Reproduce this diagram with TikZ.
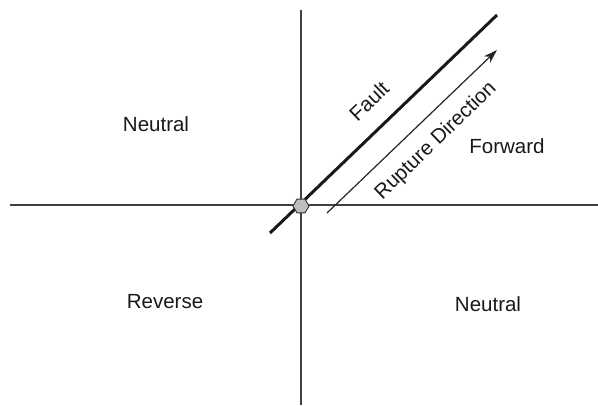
\documentclass[tikz,border=0pt]{standalone}
\usepackage{fontspec}
\setmainfont{Liberation Sans}
\usetikzlibrary{shapes.geometric,arrows.meta}
\begin{document}
\begin{tikzpicture}[x=1pt,y=-1pt,
  axis/.style={draw=black!75,line width=1.2pt},
  faultline/.style={draw=black!90,line width=3pt},
  rupture/.style={draw=black!85,line width=1.2pt,-{Stealth[length=14pt,width=9pt]}},
  lbl/.style={font=\fontsize{20.5}{24}\selectfont,text=black!90,inner sep=0pt},
  hypo/.style={regular polygon,regular polygon sides=6,minimum size=16pt,inner sep=0pt,draw=black!80,fill=black!25,line width=0.9pt}]
\useasboundingbox (0,0) rectangle (598,405);
\fill[white] (0,0) rectangle (598,405);
\coordinate (vtop) at (301,10);
\coordinate (vbot) at (301,405);
\coordinate (hl) at (10,205);
\coordinate (hr) at (598,205);
\coordinate (fs) at (270,233);
\coordinate (fe) at (497,15);
\coordinate (rs) at (327,213);
\coordinate (re) at (497,50);
\draw[axis] (vtop) -- (vbot);
\draw[axis] (hl) -- (hr);
\draw[faultline] (fs) -- (fe);
\draw[rupture] (rs) -- (re);
\node[hypo] (h) at (301,206) {};
\node[lbl] (n1) at (156,124) {Neutral};
\node[lbl] (rv) at (165,302) {Reverse};
\node[lbl] (fw) at (507,146) {Forward};
\node[lbl] (n2) at (488,304) {Neutral};
\node[lbl,rotate=44] (fl) at (369,101) {Fault};
\node[lbl,rotate=44] (rd) at (436,141) {Rupture Direction};
\end{tikzpicture}
\end{document}
